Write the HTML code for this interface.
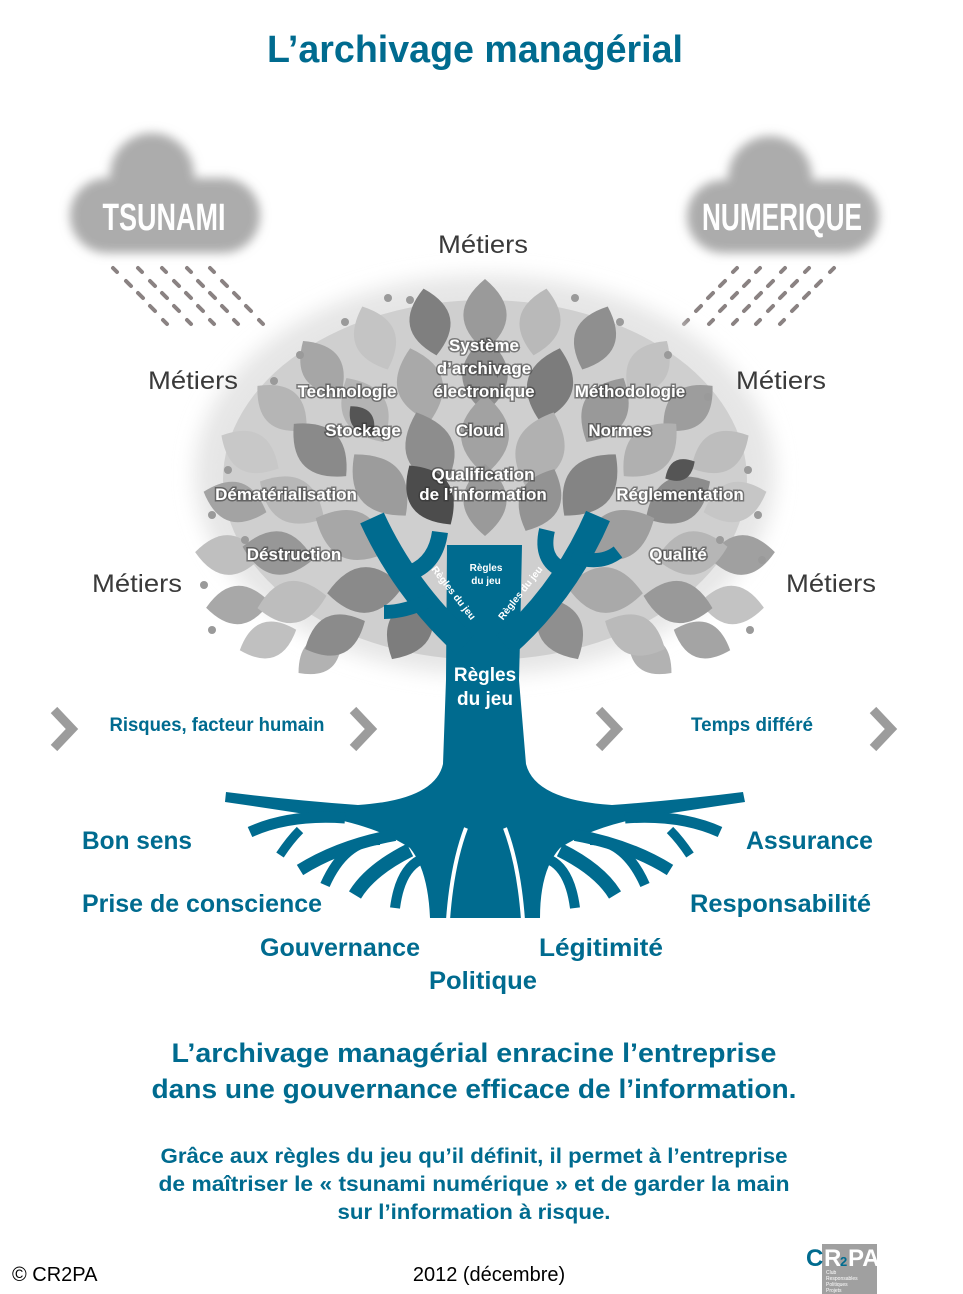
<!DOCTYPE html>
<html><head><meta charset="utf-8"><style>
html,body{margin:0;padding:0;background:#fff;}
svg{display:block;}
.b{font-family:"Liberation Sans Narrow","Liberation Sans",sans-serif;font-weight:bold;fill:#006b8f;}
.m{font-family:"Liberation Sans",sans-serif;fill:#3a3a3a;font-size:25px;}
.w{font-family:"Liberation Sans Narrow","Liberation Sans",sans-serif;font-weight:bold;fill:#fff;font-size:17px;stroke:rgba(50,50,50,.55);stroke-width:3px;paint-order:stroke;text-anchor:middle;}
</style></head><body>
<svg width="963" height="1294" viewBox="0 0 963 1294" xmlns="http://www.w3.org/2000/svg">
<defs>
<path id="lf" d="M0,-1 Q1.2,0 0,1 Q-1.2,0 0,-1Z"/>
<filter id="bl" x="-20%" y="-20%" width="140%" height="140%"><feGaussianBlur stdDeviation="5"/></filter>
<filter id="bl2" x="-20%" y="-20%" width="140%" height="140%"><feGaussianBlur stdDeviation="10"/></filter>
</defs>

<text class="b" x="475" y="62" font-size="38" text-anchor="middle" textLength="416" lengthAdjust="spacingAndGlyphs">L’archivage managérial</text>

<g filter="url(#bl)" fill="#acacac">
<circle cx="152" cy="175" r="42"/>
<rect x="70" y="178" width="190" height="75" rx="37"/>
<circle cx="770" cy="178" r="42"/>
<rect x="687" y="180" width="192" height="73" rx="36"/>
</g>
<text x="164" y="230" font-family="Liberation Sans Narrow,Liberation Sans,sans-serif" font-weight="bold" font-size="38" fill="#fff" text-anchor="middle" textLength="123" lengthAdjust="spacingAndGlyphs">TSUNAMI</text>
<text x="782" y="230" font-family="Liberation Sans Narrow,Liberation Sans,sans-serif" font-weight="bold" font-size="38" fill="#fff" text-anchor="middle" textLength="160" lengthAdjust="spacingAndGlyphs">NUMERIQUE</text>

<g id="rain" stroke="#8a8282" stroke-width="4" stroke-linecap="round">
<path d="M113,268l4,4M138,268l4,4M162,268l4,4M187,268l4,4M210,268l4,4"/>
<path d="M126,281l5,5M150,281l5,5M174,281l5,5M198,281l5,5M222,281l5,5"/>
<path d="M138,293l5,5M162,293l5,5M186,293l5,5M210,293l5,5M234,293l5,5"/>
<path d="M150,306l5,5M174,306l5,5M198,306l5,5M222,306l5,5M246,306l5,5"/>
<path d="M163,320l4,4M187,320l4,4M210,320l4,4M234,320l4,4M259,320l4,4"/>
</g>
<use href="#rain" transform="translate(947,0) scale(-1,1)"/>

<ellipse cx="485" cy="475" rx="290" ry="200" fill="#e6e6e6" filter="url(#bl2)"/>
<ellipse cx="485" cy="480" rx="262" ry="180" fill="#cfcfcf"/>
<g>
<use href="#lf" fill="#9a9a9a" transform="translate(485,315) rotate(0) scale(36)"/>
<use href="#lf" fill="#7f7f7f" transform="translate(430,322) rotate(-11) scale(34)"/>
<use href="#lf" fill="#b9b9b9" transform="translate(540,322) rotate(11) scale(34)"/>
<use href="#lf" fill="#c4c4c4" transform="translate(375,338) rotate(-22) scale(34)"/>
<use href="#lf" fill="#8f8f8f" transform="translate(595,338) rotate(22) scale(34)"/>
<use href="#lf" fill="#a6a6a6" transform="translate(322,368) rotate(-35) scale(33)"/>
<use href="#lf" fill="#c2c2c2" transform="translate(648,368) rotate(35) scale(33)"/>
<use href="#lf" fill="#b5b5b5" transform="translate(282,408) rotate(-48) scale(33)"/>
<use href="#lf" fill="#9d9d9d" transform="translate(688,408) rotate(48) scale(33)"/>
<use href="#lf" fill="#c8c8c8" transform="translate(250,452) rotate(-60) scale(33)"/>
<use href="#lf" fill="#bdbdbd" transform="translate(720,452) rotate(60) scale(33)"/>
<use href="#lf" fill="#a3a3a3" transform="translate(235,502) rotate(-72) scale(33)"/>
<use href="#lf" fill="#c6c6c6" transform="translate(735,502) rotate(72) scale(33)"/>
<use href="#lf" fill="#bfbfbf" transform="translate(228,555) rotate(-85) scale(33)"/>
<use href="#lf" fill="#a0a0a0" transform="translate(742,555) rotate(85) scale(33)"/>
<use href="#lf" fill="#a8a8a8" transform="translate(238,605) rotate(-95) scale(32)"/>
<use href="#lf" fill="#c3c3c3" transform="translate(732,605) rotate(95) scale(32)"/>
<use href="#lf" fill="#c0c0c0" transform="translate(268,640) rotate(-110) scale(30)"/>
<use href="#lf" fill="#a4a4a4" transform="translate(702,640) rotate(110) scale(30)"/>
<use href="#lf" fill="#b2b2b2" transform="translate(320,655) rotate(-130) scale(28)"/>
<use href="#lf" fill="#b2b2b2" transform="translate(650,655) rotate(130) scale(28)"/>

<use href="#lf" fill="#8e8e8e" transform="translate(485,375) rotate(0) scale(38)"/>
<use href="#lf" fill="#a9a9a9" transform="translate(420,385) rotate(-15) scale(38)"/>
<use href="#lf" fill="#7c7c7c" transform="translate(550,385) rotate(15) scale(38)"/>
<use href="#lf" fill="#b4b4b4" transform="translate(365,410) rotate(-30) scale(37)"/>
<use href="#lf" fill="#999999" transform="translate(605,410) rotate(30) scale(37)"/>
<use href="#lf" fill="#8a8a8a" transform="translate(320,450) rotate(-45) scale(37)"/>
<use href="#lf" fill="#b0b0b0" transform="translate(650,450) rotate(45) scale(37)"/>
<use href="#lf" fill="#b8b8b8" transform="translate(292,500) rotate(-60) scale(37)"/>
<use href="#lf" fill="#8c8c8c" transform="translate(678,500) rotate(60) scale(37)"/>
<use href="#lf" fill="#979797" transform="translate(278,553) rotate(-80) scale(36)"/>
<use href="#lf" fill="#b6b6b6" transform="translate(692,553) rotate(80) scale(36)"/>
<use href="#lf" fill="#bdbdbd" transform="translate(292,602) rotate(-100) scale(35)"/>
<use href="#lf" fill="#999999" transform="translate(678,602) rotate(100) scale(35)"/>
<use href="#lf" fill="#8b8b8b" transform="translate(335,635) rotate(-115) scale(33)"/>
<use href="#lf" fill="#bababa" transform="translate(635,635) rotate(115) scale(33)"/>

<use href="#lf" fill="#a2a2a2" transform="translate(485,435) rotate(0) scale(40)"/>
<use href="#lf" fill="#8d8d8d" transform="translate(430,450) rotate(-20) scale(40)"/>
<use href="#lf" fill="#b1b1b1" transform="translate(540,450) rotate(20) scale(40)"/>
<use href="#lf" fill="#9c9c9c" transform="translate(380,485) rotate(-40) scale(40)"/>
<use href="#lf" fill="#848484" transform="translate(590,485) rotate(40) scale(40)"/>
<use href="#lf" fill="#a7a7a7" transform="translate(352,535) rotate(-65) scale(40)"/>
<use href="#lf" fill="#9e9e9e" transform="translate(618,535) rotate(65) scale(40)"/>
<use href="#lf" fill="#8a8a8a" transform="translate(365,590) rotate(-95) scale(38)"/>
<use href="#lf" fill="#a9a9a9" transform="translate(605,590) rotate(95) scale(38)"/>
<use href="#lf" fill="#7d7d7d" transform="translate(410,628) rotate(-150) scale(36)"/>
<use href="#lf" fill="#8f8f8f" transform="translate(560,628) rotate(150) scale(36)"/>
<use href="#lf" fill="#4c4c4c" transform="translate(430,495) rotate(-35) scale(36)"/>
<use href="#lf" fill="#9a9a9a" transform="translate(485,500) rotate(0) scale(36)"/>
<use href="#lf" fill="#939393" transform="translate(540,500) rotate(25) scale(34)"/>
<use href="#lf" fill="#555" transform="translate(362,420) rotate(-40) scale(18)"/>
<use href="#lf" fill="#555" transform="translate(680,470) rotate(60) scale(17)"/>
</g>
<g fill="#9a9a9a">
<circle cx="300" cy="355" r="4"/><circle cx="345" cy="322" r="4"/><circle cx="388" cy="298" r="4"/><circle cx="410" cy="300" r="4"/>
<circle cx="575" cy="298" r="4"/><circle cx="620" cy="322" r="4"/><circle cx="668" cy="355" r="4"/><circle cx="708" cy="397" r="4"/>
<circle cx="274" cy="381" r="4"/><circle cx="228" cy="470" r="4"/><circle cx="212" cy="515" r="4"/><circle cx="204" cy="585" r="4"/>
<circle cx="212" cy="630" r="4"/><circle cx="748" cy="470" r="4"/><circle cx="758" cy="515" r="4"/><circle cx="762" cy="560" r="4"/>
<circle cx="750" cy="630" r="4"/><circle cx="720" cy="540" r="4"/><circle cx="245" cy="540" r="4"/>
</g>

<g fill="#006b8f">
<path d="M447,545 L522,545 L520,640 L519,680 L526,764 Q535,800 612,805 Q680,800 743,792 L745,802 Q690,810 640,818 Q590,828 560,848 Q540,870 540,918 L430,918 Q428,870 410,848 Q380,828 330,818 Q280,810 225,802 L226,792 Q290,800 358,805 Q435,800 443,764 L446,680 Z"/>
</g>
<g fill="none" stroke="#006b8f" stroke-linecap="butt">
<path d="M372,518 Q405,590 465,645" stroke-width="26"/>
<path d="M412,572 Q436,562 440,532" stroke-width="16"/>
<path d="M430,600 Q405,612 384,612" stroke-width="14"/>
<path d="M598,516 Q565,592 505,645" stroke-width="26"/>
<path d="M563,570 Q540,560 547,530" stroke-width="16"/>
<path d="M572,556 Q600,566 618,552" stroke-width="14"/>
<path d="M345,818 Q290,814 250,832" stroke-width="11"/>
<path d="M300,830 Q290,840 280,855" stroke-width="9"/>
<path d="M395,835 Q340,845 300,870" stroke-width="12"/>
<path d="M380,840 Q345,840 325,885" stroke-width="10"/>
<path d="M410,850 Q370,870 355,895" stroke-width="14"/>
<path d="M420,860 Q400,870 395,908" stroke-width="10"/>
<path d="M625,818 Q680,814 720,832" stroke-width="11"/>
<path d="M670,830 Q680,840 690,855" stroke-width="9"/>
<path d="M575,835 Q630,845 670,870" stroke-width="12"/>
<path d="M590,840 Q625,840 645,885" stroke-width="10"/>
<path d="M560,850 Q600,870 615,895" stroke-width="14"/>
<path d="M550,860 Q570,870 575,908" stroke-width="10"/>
</g>
<g fill="none" stroke="#fff" stroke-width="4">
<path d="M466,828 Q452,865 448,920"/>
<path d="M505,828 Q519,865 523,920"/>
</g>

<text class="w" x="484" y="351">Système</text>
<text class="w" x="484" y="374">d’archivage</text>
<text class="w" x="484" y="397">électronique</text>
<text class="w" x="347" y="397">Technologie</text>
<text class="w" x="630" y="397">Méthodologie</text>
<text class="w" x="363" y="436">Stockage</text>
<text class="w" x="480" y="436">Cloud</text>
<text class="w" x="620" y="436">Normes</text>
<text class="w" x="483" y="480">Qualification</text>
<text class="w" x="483" y="500">de l’information</text>
<text class="w" x="286" y="500">Dématérialisation</text>
<text class="w" x="680" y="500">Réglementation</text>
<text class="w" x="294" y="560">Déstruction</text>
<text class="w" x="678" y="560">Qualité</text>
<g font-family="Liberation Sans Narrow,Liberation Sans,sans-serif" font-weight="bold" fill="#fff" text-anchor="middle">
<text x="486" y="571" font-size="10">Règles</text>
<text x="486" y="584" font-size="10">du jeu</text>
<text transform="translate(451,595) rotate(52)" font-size="10">Règles du jeu</text>
<text transform="translate(523,595) rotate(-52)" font-size="10">Règles du jeu</text>
<text x="485" y="681" font-size="19">Règles</text>
<text x="485" y="705" font-size="19">du jeu</text>
</g>

<text class="m" x="483" y="253" text-anchor="middle" textLength="90" lengthAdjust="spacingAndGlyphs">Métiers</text>
<text class="m" x="193" y="389" text-anchor="middle" textLength="90" lengthAdjust="spacingAndGlyphs">Métiers</text>
<text class="m" x="781" y="389" text-anchor="middle" textLength="90" lengthAdjust="spacingAndGlyphs">Métiers</text>
<text class="m" x="137" y="592" text-anchor="middle" textLength="90" lengthAdjust="spacingAndGlyphs">Métiers</text>
<text class="m" x="831" y="592" text-anchor="middle" textLength="90" lengthAdjust="spacingAndGlyphs">Métiers</text>

<g fill="none" stroke="#9c9c9c" stroke-width="9" stroke-linejoin="miter">
<polyline points="54,710 72,729 54,748"/>
<polyline points="353,710 371,729 353,748"/>
<polyline points="599,710 617,729 599,748"/>
<polyline points="873,710 891,729 873,748"/>
</g>
<text class="b" x="217" y="731" font-size="19" text-anchor="middle" textLength="215" lengthAdjust="spacingAndGlyphs">Risques, facteur humain</text>
<text class="b" x="752" y="731" font-size="19" text-anchor="middle" textLength="122" lengthAdjust="spacingAndGlyphs">Temps différé</text>

<text class="b" x="82" y="849" font-size="25" textLength="110" lengthAdjust="spacingAndGlyphs">Bon sens</text>
<text class="b" x="82" y="912" font-size="25" textLength="240" lengthAdjust="spacingAndGlyphs">Prise de conscience</text>
<text class="b" x="340" y="956" font-size="25" text-anchor="middle" textLength="160" lengthAdjust="spacingAndGlyphs">Gouvernance</text>
<text class="b" x="483" y="989" font-size="25" text-anchor="middle" textLength="108" lengthAdjust="spacingAndGlyphs">Politique</text>
<text class="b" x="601" y="956" font-size="25" text-anchor="middle" textLength="124" lengthAdjust="spacingAndGlyphs">Légitimité</text>
<text class="b" x="873" y="849" font-size="25" text-anchor="end" textLength="127" lengthAdjust="spacingAndGlyphs">Assurance</text>
<text class="b" x="871" y="912" font-size="25" text-anchor="end" textLength="181" lengthAdjust="spacingAndGlyphs">Responsabilité</text>

<text class="b" x="474" y="1062" font-size="27" text-anchor="middle" textLength="605" lengthAdjust="spacingAndGlyphs">L’archivage managérial enracine l’entreprise</text>
<text class="b" x="474" y="1098" font-size="27" text-anchor="middle" textLength="645" lengthAdjust="spacingAndGlyphs">dans une gouvernance efficace de l’information.</text>
<text class="b" x="474" y="1163" font-size="21" text-anchor="middle" textLength="627" lengthAdjust="spacingAndGlyphs">Grâce aux règles du jeu qu’il définit, il permet à l’entreprise</text>
<text class="b" x="474" y="1191" font-size="21" text-anchor="middle" textLength="631" lengthAdjust="spacingAndGlyphs">de maîtriser le « tsunami numérique »  et de garder la main</text>
<text class="b" x="474" y="1219" font-size="21" text-anchor="middle" textLength="273" lengthAdjust="spacingAndGlyphs">sur l’information à risque.</text>

<text x="12" y="1281" font-family="Liberation Sans,sans-serif" font-size="20" fill="#000">© CR2PA</text>
<text x="489" y="1281" font-family="Liberation Sans,sans-serif" font-size="20" fill="#000" text-anchor="middle">2012 (décembre)</text>

<rect x="822" y="1244" width="55" height="50" fill="#a0a0a0"/>
<text x="806" y="1266" font-family="Liberation Sans,sans-serif" font-weight="bold" font-size="24" fill="#006b8f">C</text>
<text x="824" y="1266" font-family="Liberation Sans,sans-serif" font-weight="bold" font-size="24" fill="#fff">R</text>
<text x="840" y="1266" font-family="Liberation Sans,sans-serif" font-weight="bold" font-size="13" fill="#006b8f">2</text>
<text x="848" y="1266" font-family="Liberation Sans,sans-serif" font-weight="bold" font-size="24" fill="#fff">PA</text>
<g font-family="Liberation Sans,sans-serif" font-size="5" fill="#fff">
<text x="826" y="1274">Club</text><text x="826" y="1280">Responsables</text><text x="826" y="1286">Politiques</text><text x="826" y="1292">Projets</text>
</g>
</svg>
</body></html>
